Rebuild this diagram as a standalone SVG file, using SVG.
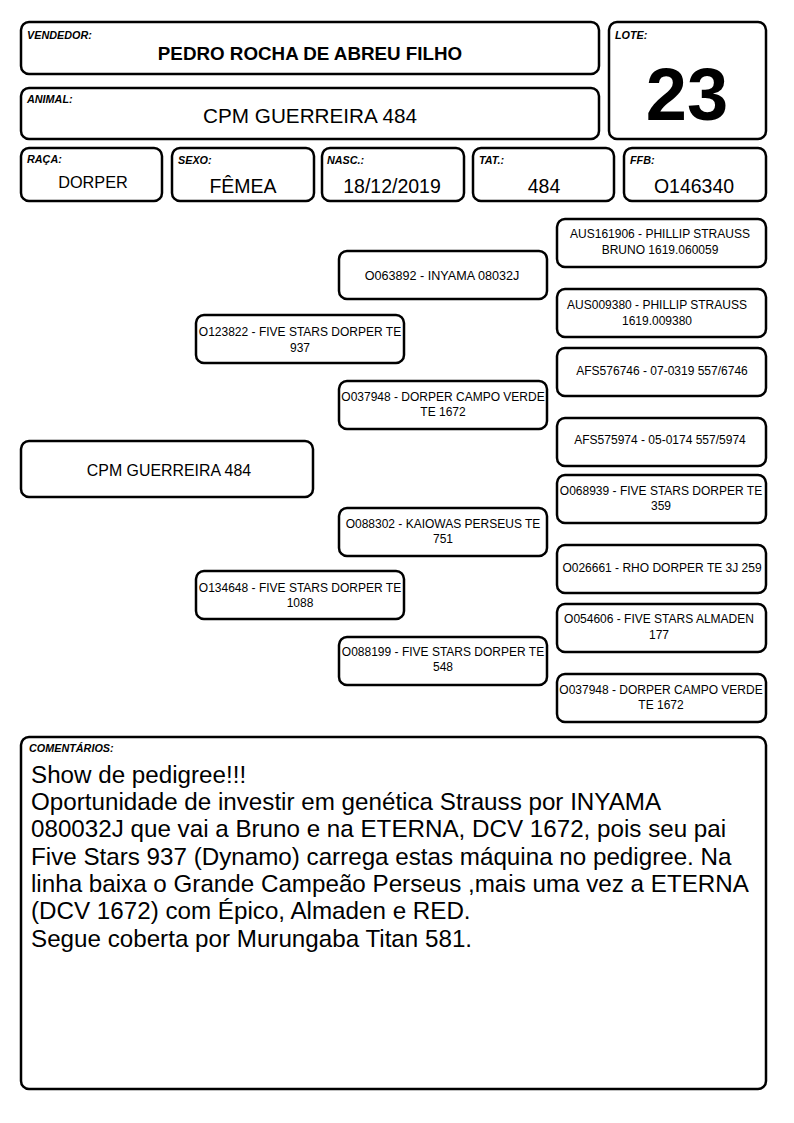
<svg xmlns="http://www.w3.org/2000/svg" width="794" height="1123" viewBox="0 0 794 1123">
<style>
.b{fill:#fff;stroke:#000;stroke-width:2.5}
.lb{font-family:"Liberation Sans",Arial,sans-serif;font-size:10.8px;font-weight:bold;font-style:italic}
.v{font-family:"Liberation Sans",Arial,sans-serif;font-size:19.5px;text-anchor:middle}
.p{font-family:"Liberation Sans",Arial,sans-serif;font-size:12px;text-anchor:middle}
.c{font-family:"Liberation Sans",Arial,sans-serif;font-size:24.2px}
</style>
<rect width="794" height="1123" fill="#fff"/>
<g id="vendedor"><rect class="b" x="21" y="22" width="578" height="52" rx="8"/><text class="lb" x="27" y="39">VENDEDOR:</text><text class="v" x="310" y="60" style="font-size:18.8px;font-weight:bold">PEDRO ROCHA DE ABREU FILHO</text></g>
<g id="animal"><rect class="b" x="21" y="88" width="578" height="51" rx="8"/><text class="lb" x="27" y="103">ANIMAL:</text><text class="v" x="310" y="123" style="font-size:20.7px">CPM GUERREIRA 484</text></g>
<g id="lote"><rect class="b" x="609" y="22" width="157" height="117" rx="8"/><text class="lb" x="615" y="39">LOTE:</text><text class="v" x="687" y="120" style="font-size:74px;font-weight:bold">23</text></g>
<g id="raca"><rect class="b" x="21" y="148" width="141" height="53" rx="8"/><text class="lb" x="27" y="163">RAÇA:</text><text class="v" x="93" y="188" style="font-size:16.3px">DORPER</text></g>
<g id="sexo"><rect class="b" x="172" y="148" width="142" height="53" rx="8"/><text class="lb" x="178" y="164">SEXO:</text><text class="v" x="243" y="193">FÊMEA</text></g>
<g id="nasc"><rect class="b" x="322" y="148" width="142" height="53" rx="8"/><text class="lb" x="327" y="164">NASC.:</text><text class="v" x="392" y="193">18/12/2019</text></g>
<g id="tat"><rect class="b" x="473" y="148" width="141" height="53" rx="8"/><text class="lb" x="479" y="164">TAT.:</text><text class="v" x="544" y="193">484</text></g>
<g id="ffb"><rect class="b" x="624" y="148" width="142" height="53" rx="8"/><text class="lb" x="630" y="164">FFB:</text><text class="v" x="694" y="193">O146340</text></g>
<g id="connectors"></g>
<g id="main"><rect class="b" x="21" y="441" width="292" height="56" rx="8"/><text class="v" x="169" y="476" style="font-size:15.9px">CPM GUERREIRA 484</text></g>
<g id="sire"><rect class="b" x="196" y="315" width="208" height="48" rx="8"/><text class="p" x="300" y="336">O123822 - FIVE STARS DORPER TE</text><text class="p" x="300" y="352">937</text></g>
<g id="dam"><rect class="b" x="196" y="571" width="208" height="48" rx="8"/><text class="p" x="300" y="592">O134648 - FIVE STARS DORPER TE</text><text class="p" x="300" y="607">1088</text></g>
<g id="ss"><rect class="b" x="339" y="251" width="208" height="48" rx="8"/><text class="p" x="442" y="280" style="font-size:12.6px">O063892 - INYAMA 08032J</text></g>
<g id="sd"><rect class="b" x="339" y="381" width="208" height="48" rx="8"/><text class="p" x="443" y="401">O037948 - DORPER CAMPO VERDE</text><text class="p" x="443" y="416">TE 1672</text></g>
<g id="ds"><rect class="b" x="339" y="508" width="208" height="48" rx="8"/><text class="p" x="443" y="528">O088302 - KAIOWAS PERSEUS TE</text><text class="p" x="443" y="543">751</text></g>
<g id="dd"><rect class="b" x="339" y="637" width="208" height="48" rx="8"/><text class="p" x="443" y="656">O088199 - FIVE STARS DORPER TE</text><text class="p" x="443" y="671">548</text></g>
<g id="sss"><rect class="b" x="557" y="219" width="209" height="48" rx="8"/><text class="p" x="660" y="238">AUS161906 - PHILLIP STRAUSS</text><text class="p" x="660" y="254">BRUNO 1619.060059</text></g>
<g id="ssd"><rect class="b" x="557" y="289" width="209" height="48" rx="8"/><text class="p" x="657" y="309">AUS009380 - PHILLIP STRAUSS</text><text class="p" x="657" y="325">1619.009380</text></g>
<g id="sds"><rect class="b" x="557" y="348" width="209" height="48" rx="8"/><text class="p" x="662" y="375">AFS576746 - 07-0319 557/6746</text></g>
<g id="sdd"><rect class="b" x="557" y="418" width="209" height="48" rx="8"/><text class="p" x="660" y="444">AFS575974 - 05-0174 557/5974</text></g>
<g id="dss"><rect class="b" x="557" y="475" width="209" height="48" rx="8"/><text class="p" x="661" y="495">O068939 - FIVE STARS DORPER TE</text><text class="p" x="661" y="510">359</text></g>
<g id="dsd"><rect class="b" x="557" y="545" width="209" height="48" rx="8"/><text class="p" x="662" y="572">O026661 - RHO DORPER TE 3J 259</text></g>
<g id="dds"><rect class="b" x="557" y="604" width="209" height="48" rx="8"/><text class="p" x="659" y="623">O054606 - FIVE STARS ALMADEN</text><text class="p" x="659" y="639">177</text></g>
<g id="ddd"><rect class="b" x="557" y="674" width="209" height="48" rx="8"/><text class="p" x="661" y="694">O037948 - DORPER CAMPO VERDE</text><text class="p" x="661" y="709">TE 1672</text></g>
<g id="comentarios"><rect class="b" x="21" y="737" width="745" height="352" rx="8"/><text class="lb" x="29" y="752">COMENTÁRIOS:</text>
<text class="c" x="31" y="783">Show de pedigree!!!</text>
<text class="c" x="31" y="810">Oportunidade de investir em genética Strauss por INYAMA</text>
<text class="c" x="31" y="837">080032J que vai a Bruno e na ETERNA, DCV 1672, pois seu pai</text>
<text class="c" x="31" y="865">Five Stars 937 (Dynamo) carrega estas máquina no pedigree. Na</text>
<text class="c" x="31" y="892">linha baixa o Grande Campeão Perseus ,mais uma vez a ETERNA</text>
<text class="c" x="31" y="919">(DCV 1672) com Épico, Almaden e RED.</text>
<text class="c" x="31" y="947">Segue coberta por Murungaba Titan 581.</text>
</g>
</svg>
